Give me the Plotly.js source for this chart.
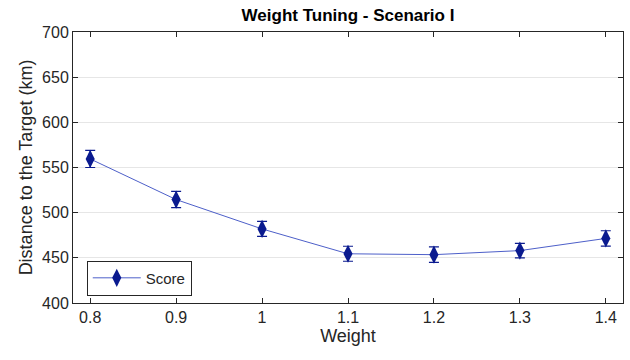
<!DOCTYPE html>
<html>
<head>
<meta charset="utf-8">
<script src="https://cdn.plot.ly/plotly-3.0.1.min.js"></script>
<style>html,body{margin:0;padding:0;background:#fff;}#chart{width:630px;height:360px;}</style>
</head>
<body>
<div id="chart"></div>
<script>
const weights = [0.8, 0.9, 1.0, 1.1, 1.2, 1.3, 1.4];
const scores = [559.5, 514.5, 482, 454.5, 453.5, 458, 471.5];
const errors = [9.5, 9, 8.3, 8.3, 8.6, 8.1, 8.5];
const xTicks = [0.8, 0.9, 1.0, 1.1, 1.2, 1.3, 1.4];
const xTickLabels = ['0.8', '0.9', '1', '1.1', '1.2', '1.3', '1.4'];
const yTicks = [400, 450, 500, 550, 600, 650, 700];

const FONT = 'Liberation Sans, Arial, sans-serif';
const trace = {
  x: weights, y: scores, type: 'scatter', mode: 'lines+markers', name: 'Score',
  line: {color: '#4d5fc9', width: 1},
  marker: {symbol: 'diamond-tall', size: 13, color: '#0a1a8f'},
  error_y: {type: 'data', array: errors, visible: true, color: '#0a1a8f', thickness: 1.2, width: 5}
};
const axisCommon = {
  showline: true, linecolor: '#262626', linewidth: 1, mirror: 'ticks',
  ticks: 'inside', ticklen: 5, tickcolor: '#262626', zeroline: false,
  tickfont: {family: FONT, size: 16, color: '#262626'}
};
const layout = {
  width: 630, height: 360,
  margin: {l: 73, r: 7, t: 32, b: 57},
  paper_bgcolor: '#fff', plot_bgcolor: '#fff',
  title: {text: '<b>Weight Tuning - Scenario I</b>', x: 0.5, xref: 'paper', y: 0.975, yref: 'container',
    font: {family: FONT, size: 17, color: '#000'}},
  xaxis: Object.assign({}, axisCommon, {
    range: [0.78, 1.42], tickvals: xTicks, ticktext: xTickLabels, showgrid: false,
    title: {text: 'Weight', standoff: 4, font: {family: FONT, size: 18, color: '#262626'}}
  }),
  yaxis: Object.assign({}, axisCommon, {
    range: [400, 700], tickvals: yTicks, showgrid: true, gridcolor: '#e6e6e6', gridwidth: 1,
    title: {text: 'Distance to the Target (km)', standoff: 4, font: {family: FONT, size: 18, color: '#262626'}}
  }),
  showlegend: true,
  legend: {x: 0.025, y: 0.092, xanchor: 'left', yanchor: 'middle', bgcolor: '#fff',
    bordercolor: '#262626', borderwidth: 1, tracegroupgap: 0, itemwidth: 48,
    font: {family: FONT, size: 15, color: '#262626'}}
};
Plotly.newPlot('chart', [trace], layout, {displayModeBar: false});
</script>
</body>
</html>
